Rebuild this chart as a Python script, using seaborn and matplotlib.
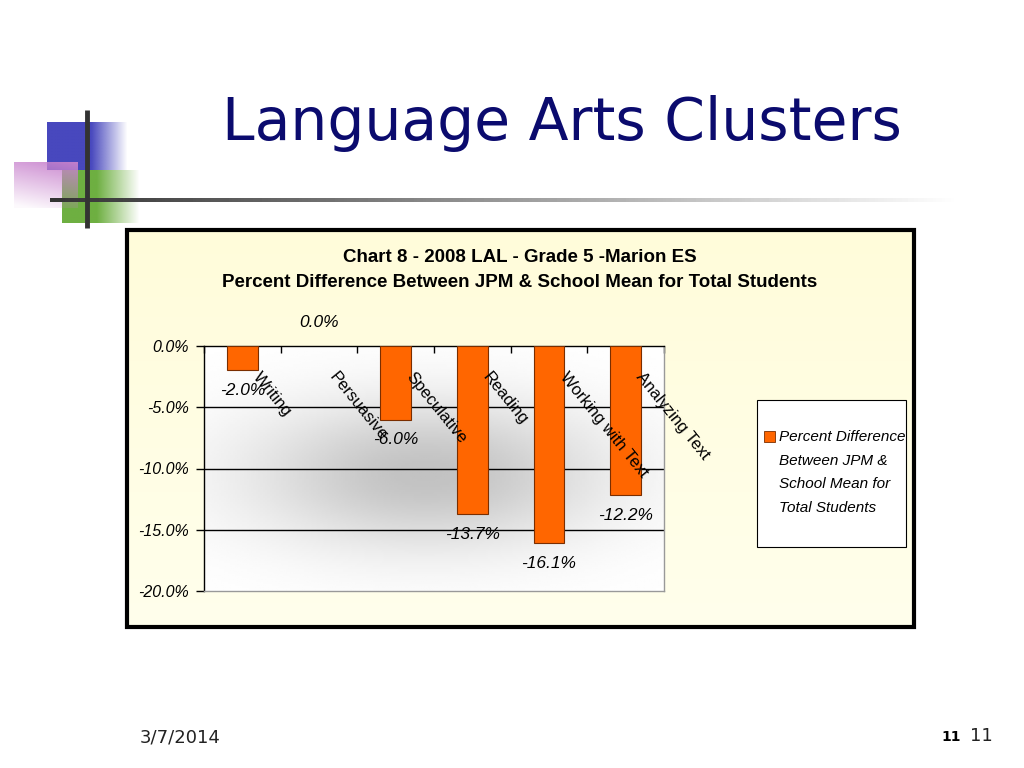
import numpy as np
import matplotlib.pyplot as plt
import seaborn as sns
from matplotlib.patches import Rectangle

# chart data
categories = ["Writing", "Persuasive", "Speculative", "Reading",
              "Working with Text", "Analyzing Text"]
pct_diff = [-2.0, 0.0, -6.0, -13.7, -16.1, -12.2]
y_ticks = [0.0, -5.0, -10.0, -15.0, -20.0]

slide_title = "Language Arts Clusters"
chart_title = ("Chart 8 - 2008 LAL - Grade 5 -Marion ES\n"
               "Percent Difference Between JPM & School Mean for Total Students")
legend_label = "Percent Difference\nBetween JPM &\nSchool Mean for\nTotal Students"
footer_date = "3/7/2014"
slide_no = "11"

sns.set_theme(style="white")
plt.rcParams["font.family"] = ["Liberation Sans", "DejaVu Sans"]
plt.rcParams["text.color"] = "black"
plt.rcParams["ytick.color"] = "black"
plt.rcParams["xtick.color"] = "black"

BAR = "#FF6600"

fig = plt.figure(figsize=(10.24, 7.68), dpi=100)
fig.patch.set_facecolor("white")

# background layer in pixel coords
bg = fig.add_axes([0, 0, 1, 1], zorder=0)
bg.set_xlim(0, 1024)
bg.set_ylim(768, 0)
bg.axis("off")


def fade_box(ax, x0, y0, x1, y1, rgb, fade_from=0.55, diag=False):
    w = 64
    X, Y = np.meshgrid(np.linspace(0, 1, w), np.linspace(0, 1, w))
    if diag:
        a = np.clip(0.95 - 0.75 * Y - 0.2 * (1 - X), 0.05, 1)
    else:
        a = np.where(X < fade_from, 1.0, np.clip(1 - (X - fade_from) / (1 - fade_from), 0, 1))
    img = np.zeros((w, w, 4))
    img[..., :3] = np.array(rgb) / 255.0
    img[..., 3] = a
    ax.imshow(img, extent=(x0, x1, y1, y0), aspect="auto", interpolation="bilinear", zorder=2)


# decorative slide squares
fade_box(bg, 47, 122, 128, 170, (72, 72, 190), fade_from=0.55)
fade_box(bg, 62, 170, 140, 223, (110, 175, 65), fade_from=0.45)
fade_box(bg, 14, 162, 78, 208, (200, 130, 205), diag=True)
bg.plot([87, 87], [110, 228], color="#333333", lw=3.5, zorder=4, solid_capstyle="butt")
line_img = np.linspace(0.2, 1.0, 300)[None, :]
bg.imshow(line_img, extent=(50, 960, 202, 198), aspect="auto", cmap="gray",
          vmin=0, vmax=1, zorder=3)

bg.text(562, 123, slide_title, fontsize=42, color="#0B0B6E",
        family="DejaVu Sans", ha="center", va="center")

# chart frame with pale yellow gradient
grad = np.linspace(0, 1, 100)[:, None] * np.ones((1, 100))
top_c = np.array([255, 252, 218]) / 255
bot_c = np.array([255, 255, 236]) / 255
yellow = top_c + (bot_c - top_c) * grad[..., None]
bg.imshow(yellow, extent=(127, 914, 627, 230), aspect="auto", zorder=1)
bg.add_patch(Rectangle((127, 230), 787, 397, fill=False, ec="black", lw=3, zorder=5))
bg.set_xlim(0, 1024)
bg.set_ylim(768, 0)

bg.text(520, 270, chart_title, fontsize=13.5, fontweight="bold", ha="center",
        va="center", linespacing=1.55)

# legend box drawn by hand so the swatch sits on the first line
bg.add_patch(Rectangle((757, 400), 149, 147, fc="white", ec="black", lw=0.8, zorder=5))
bg.add_patch(Rectangle((764, 431), 11, 11, fc=BAR, ec="#7A2E00", lw=0.6, zorder=6))
bg.text(779, 430, legend_label, fontsize=11, style="italic", ha="left", va="top",
        linespacing=1.87, zorder=6)

# footer
bg.text(140, 737, footer_date, fontsize=13, family="DejaVu Sans", ha="left", va="center",
        color="#222222")
bg.text(961, 737, slide_no, fontsize=10, family="DejaVu Sans", fontweight="bold",
        ha="right", va="center")
bg.text(970, 736, slide_no, fontsize=13, family="DejaVu Sans", ha="left", va="center",
        color="#222222")

# plot area
ax = fig.add_axes([204 / 1024, 1 - 591 / 768, 460 / 1024, 245 / 768], zorder=2)
ax.set_facecolor("none")

# white plot area with a soft grey shadow
gx = np.linspace(-0.5, 5.5, 200)
gy = np.linspace(-20, 0, 120)
GX, GY = np.meshgrid(gx, gy)
shade = 1 - 0.24 * np.exp(-(((GX - 2.4) / 2.3) ** 2 + ((GY + 10.5) / 6.0) ** 2))
ax.imshow(shade, extent=(-0.5, 5.5, -20, 0), origin="lower", aspect="auto",
          cmap="gray", vmin=0, vmax=1, zorder=0)

sns.barplot(x=categories, y=pct_diff, color=BAR, width=0.4, saturation=1,
            edgecolor="#7A2E00", linewidth=0.8, ax=ax, zorder=3)
# a zero-height bar shows nothing in the original
for p in ax.patches:
    if p.get_height() == 0:
        p.set_linewidth(0)

ax.set_xlim(-0.5, 5.5)
ax.set_ylim(-20, 0)
for yv in y_ticks[1:-1]:
    ax.axhline(yv, color="black", lw=1, zorder=1)

ax.set_yticks(y_ticks)
ax.set_yticklabels([f"{v:.1f}%" for v in y_ticks], fontsize=11.5, style="italic")
ax.tick_params(axis="y", left=True, length=6, width=1, color="black", pad=5)

ax.xaxis.tick_top()
ax.set_xticks(np.arange(-0.5, 6, 1))
ax.set_xticklabels([])
ax.tick_params(axis="x", top=True, bottom=False, direction="in", length=5, width=1,
               color="black")
ax.set_xlabel("")
ax.set_ylabel("")

ax.spines["left"].set_color("black")
ax.spines["top"].set_color("black")
ax.spines["right"].set_color("#999999")
ax.spines["bottom"].set_color("#999999")
for s in ax.spines.values():
    s.set_linewidth(1)
    s.set_visible(True)

# category labels running down from the zero line
for i, name in enumerate(categories):
    ax.text(i + 0.25, -1.9, name, rotation=-51, rotation_mode="anchor",
            ha="left", va="top", fontsize=12, zorder=5, clip_on=False)

# value labels
for i, v in enumerate(pct_diff):
    yy = v - 1.65 if v < 0 else v + 1.9
    ax.text(i, yy, f"{v:.1f}%", ha="center", va="center", fontsize=12.5,
            style="italic", zorder=5, clip_on=False)

fig.savefig("out.png", dpi=100)
